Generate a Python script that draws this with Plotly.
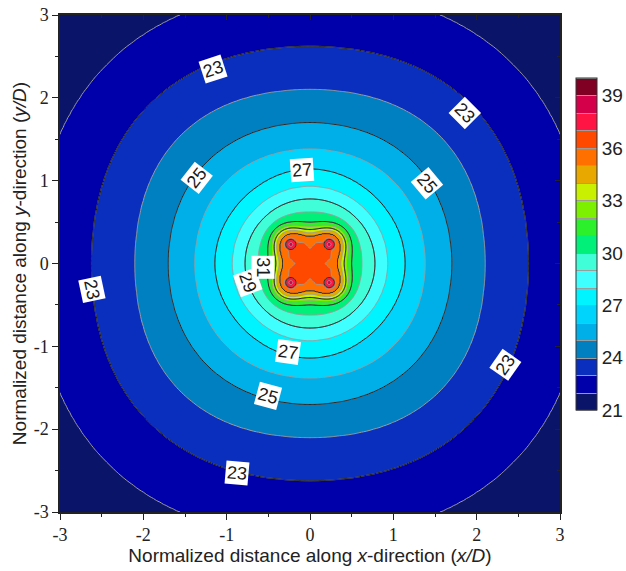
import numpy as np
import plotly.graph_objects as go

# ---- data ----
# temperature level and the distance of that isoline from the centre,
# measured along the x/y axes and along the diagonals (x/D units)
levels = [21, 22, 23, 24, 25, 26, 27, 28, 29, 30, 31, 32, 33, 34, 35, 35.8]
radius_axis = [4.20, 3.30, 2.62, 2.10, 1.70, 1.38, 1.14, 0.93, 0.78, 0.62, 0.50, 0.45, 0.41, 0.37, 0.33, 0.0]
radius_diag = [4.60, 3.42, 2.72, 2.19, 1.74, 1.41, 1.12, 0.93, 0.78, 0.66, 0.59, 0.55, 0.52, 0.49, 0.45, 0.0]

# four hot sources near the centre
source_x = [-0.23, 0.23, -0.23, 0.23]
source_y = [0.23, 0.23, -0.23, -0.23]
source_peak = 38.6
cross_peak = 36.7

band_colors = ["#0a1468", "#0000aa", "#0a2ebe", "#0080c0", "#00aee8", "#00d4fc",
               "#00f4ff", "#40ffff", "#40ffd8", "#00f07a", "#2cf02c", "#7cf000",
               "#c8f000", "#e8a800", "#ff7000", "#ff4800", "#ff1444", "#d4004a",
               "#800024"]
colorbar_ticks = [21, 24, 27, 30, 33, 36, 39]
axis_ticks = [-3, -2, -1, 0, 1, 2, 3]
axis_ticktext = ["-3", "-2", "-1", "0", "1", "2", "3"]

label_text = ["23", "23", "23", "23", "23", "25", "25", "25", "27", "27", "29", "31"]
label_x = [-1.16, 1.86, -2.62, -0.88, 2.34, -1.36, 1.40, -0.50, -0.10, -0.26, -0.74, -0.56]
label_y = [2.35, 1.82, -0.31, -2.53, -1.22, 1.03, 0.97, -1.60, 1.13, -1.07, -0.23, -0.05]
label_angle = [-18, 45, 78, 5, -55, -52, 50, 15, -4, 8, 70, 90]

# ---- field ----
xs = np.unique(np.round(np.concatenate([np.arange(-3.0, -0.6, 0.04),
                                        np.arange(-0.6, 0.6001, 0.01),
                                        np.arange(0.64, 3.0001, 0.04)]), 4))
ys = xs.copy()
X, Y = np.meshgrid(xs, ys)
r = np.hypot(X, Y)
s = np.sin(2 * np.arctan2(Y, X)) ** 2
L = np.array(levels, float)
Ra = np.array(radius_axis)
Rd = np.array(radius_diag)
T = np.full(X.shape, L[0])
for i in range(len(L) - 1):
    R0 = Ra[i] * (1 - s) + Rd[i] * s
    R1 = Ra[i + 1] * (1 - s) + Rd[i + 1] * s
    m = (r <= R0) & (r > R1)
    val = L[i] + (R0 - r) / np.maximum(R0 - R1, 1e-9) * (L[i + 1] - L[i])
    T[m] = val[m]
T[r <= 1e-9] = L[-1]

d_src = np.min([np.hypot(X - sx, Y - sy) for sx, sy in zip(source_x, source_y)], axis=0)
T_spot = np.where(d_src < 0.062, source_peak - 26.0 * d_src, 37.0 - 60.0 * (d_src - 0.062))
d_diag = np.minimum(np.abs(X - Y), np.abs(X + Y)) / np.sqrt(2)
box = np.maximum(np.abs(X), np.abs(Y))
T_cross = cross_peak - 5.5 * d_diag - 40.0 * np.maximum(0, box - 0.25)
Z = np.round(np.maximum(np.maximum(T, T_spot), T_cross), 3)

n = len(band_colors)
colorscale = []
for i, c in enumerate(band_colors):
    colorscale.append([i / n, c])
    colorscale.append([(i + 1) / n, c])

fig = go.Figure()
fig.add_trace(go.Contour(
    x=xs, y=ys, z=Z, zmin=21, zmax=40,
    contours=dict(start=21, end=40, size=1, coloring="fill", showlines=True),
    line=dict(color="#9c9c9c", width=1),
    colorscale=colorscale,
    hoverinfo="skip",
    colorbar=dict(x=1.032, xanchor="left", xpad=0, y=0.539, yanchor="middle",
                  ypad=0, len=0.668, lenmode="fraction", thickness=21,
                  outlinewidth=1, outlinecolor="#333333",
                  tickvals=colorbar_ticks, ticks="",
                  tickfont=dict(family="Liberation Sans", size=19, color="#222222")),
))
fig.add_trace(go.Contour(
    x=xs, y=ys, z=Z,
    contours=dict(start=21, end=39, size=2, coloring="none"),
    line=dict(color="#1a1a1a", width=1),
    showscale=False, hoverinfo="skip",
))
fig.add_trace(go.Scatter(x=[], y=[], xaxis="x2", yaxis="y2", showlegend=False))

for t, x, y, a in zip(label_text, label_x, label_y, label_angle):
    fig.add_annotation(x=x, y=y, text=t, textangle=a, showarrow=False,
                       bgcolor="white", borderpad=1,
                       font=dict(family="Liberation Sans", size=18, color="#1a1a1a"))

tickfont = dict(family="'Liberation Serif', 'DejaVu Serif', 'Times New Roman', serif",
                size=18, color="#222222")
common = dict(range=[-3, 3], showgrid=False, zeroline=False, automargin=False,
              tickmode="array", tickvals=axis_ticks,
              showline=True, linecolor="#222222", linewidth=1.5)
fig.update_layout(
    width=626, height=571,
    margin=dict(l=60, r=66, t=15, b=59, autoexpand=False),
    paper_bgcolor="white", plot_bgcolor="white",
    showlegend=False,
    xaxis=dict(**common, ticks="outside", ticklen=6, tickcolor="#222222",
               ticktext=axis_ticktext,
               minor=dict(dtick=0.5, tick0=-3, ticks="outside", ticklen=3, tickcolor="#222222"),
               tickfont=tickfont,
               title=dict(text="Normalized distance along <i>x</i>-direction (<i>x/D</i>)",
                          font=dict(family="Liberation Sans", size=19, color="#222222"),
                          standoff=0)),
    yaxis=dict(**common, ticks="outside", ticklen=6, tickcolor="#222222",
               ticktext=axis_ticktext,
               minor=dict(dtick=0.5, tick0=-3, ticks="outside", ticklen=3, tickcolor="#222222"),
               tickfont=tickfont,
               title=dict(text="Normalized distance along <i>y</i>-direction (<i>y/D</i>)",
                          font=dict(family="Liberation Sans", size=19, color="#222222"),
                          standoff=2)),
    xaxis2=dict(**common, overlaying="x", side="top", anchor="y", matches="x",
                ticks="inside", ticklen=5, tickcolor="#222222", showticklabels=False,
                minor=dict(dtick=0.5, tick0=-3, ticks="inside", ticklen=3, tickcolor="#222222")),
    yaxis2=dict(**common, overlaying="y", side="right", anchor="x", matches="y",
                ticks="inside", ticklen=5, tickcolor="#222222", showticklabels=False,
                minor=dict(dtick=0.5, tick0=-3, ticks="inside", ticklen=3, tickcolor="#222222")),
)
fig.write_html("out.html", config={"displayModeBar": False},
               post_script="document.body.style.margin='0';document.body.style.overflow='hidden';")
